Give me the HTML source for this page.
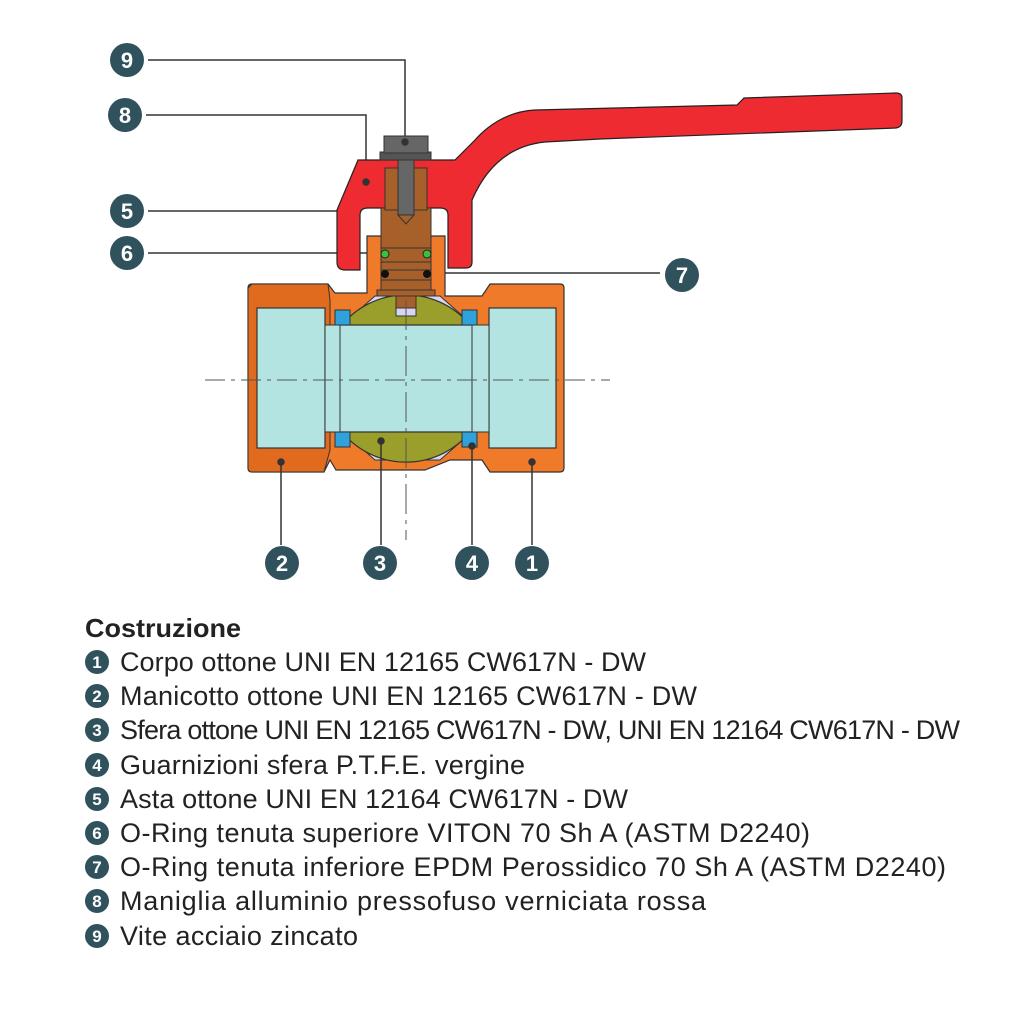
<!DOCTYPE html>
<html><head><meta charset="utf-8"><style>
html,body{margin:0;padding:0;background:#fff;}
svg{display:block;font-family:"Liberation Sans",sans-serif;}
</style></head><body>
<svg width="1024" height="1024" viewBox="0 0 1024 1024" xmlns="http://www.w3.org/2000/svg">
<g stroke="#333" stroke-width="1.5" fill="none">
<polyline points="148,60 405,60 405,142"/>
<polyline points="146,115 366,115 366,182"/>
<polyline points="148,211 360,211"/>
<polyline points="148,253 378,253"/>
<polyline points="445,273 660,273"/>
</g>
<!-- handle -->
<path d="M358,160 L337,210 L337,262 Q337,270 345,270 L360,270 L360,215 Q360,208 368,208 L440,208 Q448,208 448,215 L448,268 L466,268 Q472,268 472,262 L472,200 Q495,147 545,142 L600,139 L896,128 Q902,127 902,121 L902,98 Q902,93 896,93 L744,98 L737,105 L535,110 Q500,112 475,140 L455,160 Z" fill="#ee2b30" stroke="#222" stroke-width="1.2"/>
<!-- body -->
<path d="M252,284 L328,284 L335,293 L367,293 L367,236 L445,236 L445,296 L482,296 L490,284 L560,284 Q564,284 564,288 L564,468 Q564,472 560,472 L490,472 L482,460 L450,460 L425,470 L336,470 L330,460 L324,472 L252,472 Q248,472 248,468 L248,288 Q248,284 252,284 Z" fill="#ee7a2a" stroke="#333" stroke-width="1.2"/>
<path d="M252,284 L328,284 L330,300 L330,450 L324,472 L252,472 Q248,472 248,468 L248,288 Z" fill="#e06a1e" stroke="#333" stroke-width="1"/>
<rect x="257" y="308" width="68" height="140" fill="#b3e4e2" stroke="#333" stroke-width="1.2"/>
<rect x="489" y="308" width="67" height="140" fill="#b3e4e2" stroke="#333" stroke-width="1.2"/>
<rect x="325" y="325" width="164" height="107" fill="#b3e4e2" stroke="#333" stroke-width="1"/>
<path d="M350,318 L375,296 L440,296 L465,318 L465,325 L350,325 Z" fill="#d8d6ee" stroke="#333" stroke-width="1"/>
<path d="M350,438 L375,460 L440,460 L465,438 L465,432 L350,432 Z" fill="#d8d6ee" stroke="#333" stroke-width="1"/>
<path d="M342,325 A83,83 0 0 1 470,325 Z" fill="#9a9f2c" stroke="#333" stroke-width="1.2"/>
<path d="M342,432 A83,83 0 0 0 470,432 Z" fill="#9a9f2c" stroke="#333" stroke-width="1.2"/>
<rect x="335" y="310" width="15" height="15" fill="#2fa2dc" stroke="#333"/>
<rect x="462" y="310" width="15" height="15" fill="#2fa2dc" stroke="#333"/>
<rect x="335" y="432" width="15" height="15" fill="#2fa2dc" stroke="#333"/>
<rect x="462" y="432" width="15" height="15" fill="#2fa2dc" stroke="#333"/>
<line x1="340" y1="325" x2="340" y2="432" stroke="#333"/>
<line x1="472" y1="325" x2="472" y2="432" stroke="#333"/>
<!-- stem -->
<rect x="381" y="208" width="50" height="86" fill="#a8602a" stroke="#333"/>
<rect x="377" y="290" width="58" height="6" fill="#a8602a" stroke="#333"/>
<rect x="396" y="296" width="20" height="20" fill="#d8d6ee" stroke="#333"/>
<rect x="396" y="296" width="20" height="12" fill="#a8602a" stroke="#333"/>
<rect x="385" y="168" width="42" height="42" fill="#a8602a" stroke="#333"/>
<rect x="398" y="160" width="16" height="55" fill="#666" stroke="#333"/>
<path d="M398,215 L406,224 L414,215 Z" fill="#a8602a" stroke="#333"/>
<rect x="380" y="152" width="51" height="8" fill="#555" stroke="#333"/>
<rect x="384" y="136" width="44" height="17" fill="#666" stroke="#333"/>
<line x1="381" y1="248" x2="431" y2="248" stroke="#333"/>
<line x1="381" y1="262" x2="431" y2="262" stroke="#333"/>
<line x1="381" y1="270" x2="431" y2="270" stroke="#333"/>
<line x1="381" y1="280" x2="431" y2="280" stroke="#333"/>
<circle cx="385" cy="254" r="4" fill="#3cc03c" stroke="#222"/>
<circle cx="427" cy="254" r="4" fill="#3cc03c" stroke="#222"/>
<circle cx="385" cy="274" r="4" fill="#111"/>
<circle cx="427" cy="274" r="4" fill="#111"/>
<line x1="205" y1="380" x2="610" y2="380" stroke="#555" stroke-width="1" stroke-dasharray="20,6,4,6"/>
<line x1="406" y1="300" x2="406" y2="540" stroke="#555" stroke-width="1" stroke-dasharray="30,6,4,6"/>
<g stroke="#333" stroke-width="1.5">
<line x1="532" y1="462" x2="532" y2="545"/><circle cx="532" cy="462" r="3" fill="#333"/>
<line x1="281" y1="462" x2="281" y2="545"/><circle cx="281" cy="462" r="3" fill="#333"/>
<line x1="381" y1="441" x2="381" y2="545"/><circle cx="381" cy="441" r="3" fill="#333"/>
<line x1="472" y1="446" x2="472" y2="545"/><circle cx="472" cy="446" r="3" fill="#333"/>
<circle cx="366" cy="182" r="3" fill="#333"/>
<circle cx="405" cy="142" r="3" fill="#333"/>
</g>
<g fill="#2f525c">
<circle cx="127" cy="60" r="17"/><circle cx="125" cy="115" r="17"/>
<circle cx="127" cy="211" r="17"/><circle cx="127" cy="253" r="17"/>
<circle cx="682" cy="275" r="17"/>
<circle cx="282" cy="563" r="17"/><circle cx="380" cy="563" r="17"/>
<circle cx="472" cy="563" r="17"/><circle cx="532" cy="563" r="17"/>
</g>
<g fill="#fff" font-weight="bold" font-size="22" text-anchor="middle">
<text x="127" y="68">9</text><text x="125" y="123">8</text>
<text x="127" y="219">5</text><text x="127" y="261">6</text>
<text x="682" y="283">7</text>
<text x="282" y="571">2</text><text x="380" y="571">3</text>
<text x="472" y="571">4</text><text x="532" y="571">1</text>
</g>
<text x="85" y="637" font-size="26" font-weight="bold" fill="#222" textLength="156" lengthAdjust="spacingAndGlyphs">Costruzione</text>
<g fill="#2f525c">
<circle cx="97" cy="662" r="12"/><circle cx="97" cy="696" r="12"/><circle cx="97" cy="730" r="12"/>
<circle cx="97" cy="765" r="12"/><circle cx="97" cy="799" r="12"/><circle cx="97" cy="833" r="12"/>
<circle cx="97" cy="867" r="12"/><circle cx="97" cy="901" r="12"/><circle cx="97" cy="936" r="12"/>
</g>
<g fill="#fff" font-weight="bold" font-size="17" text-anchor="middle">
<text x="97" y="668">1</text><text x="97" y="702">2</text><text x="97" y="736">3</text>
<text x="97" y="771">4</text><text x="97" y="805">5</text><text x="97" y="839">6</text>
<text x="97" y="873">7</text><text x="97" y="907">8</text><text x="97" y="942">9</text>
</g>
<g fill="#222" font-size="27" lengthAdjust="spacingAndGlyphs">
<text x="120" y="671" textLength="526">Corpo ottone UNI EN 12165 CW617N - DW</text>
<text x="120" y="705" textLength="577">Manicotto ottone UNI EN 12165 CW617N - DW</text>
<text x="120" y="739" textLength="840">Sfera ottone UNI EN 12165 CW617N - DW, UNI EN 12164 CW617N - DW</text>
<text x="120" y="774" textLength="405">Guarnizioni sfera P.T.F.E. vergine</text>
<text x="120" y="808" textLength="508">Asta ottone UNI EN 12164 CW617N - DW</text>
<text x="120" y="842" textLength="690">O-Ring tenuta superiore VITON 70 Sh A (ASTM D2240)</text>
<text x="120" y="876" textLength="826">O-Ring tenuta inferiore EPDM Perossidico 70 Sh A (ASTM D2240)</text>
<text x="120" y="910" textLength="586">Maniglia alluminio pressofuso verniciata rossa</text>
<text x="120" y="945" textLength="238">Vite acciaio zincato</text>
</g>
</svg>
</body></html>
